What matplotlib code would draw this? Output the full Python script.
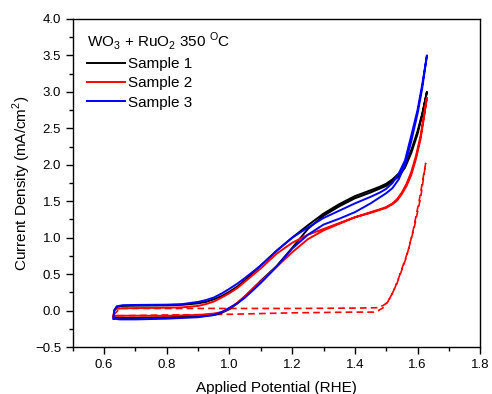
import numpy as np
import matplotlib
matplotlib.use("Agg")
import matplotlib.pyplot as plt
from matplotlib.ticker import MultipleLocator

plt.rcParams["font.family"] = ["Liberation Sans", "DejaVu Sans"]
plt.rcParams["mathtext.fontset"] = "custom"
plt.rcParams["mathtext.rm"] = "Liberation Sans"

# Sample 1 (black): outer branch up, inner branch back
s1_v_up = [0.63, 0.632, 0.64, 0.66, 0.7, 0.8, 0.85, 0.9, 0.925, 0.95, 0.975, 1.0, 1.025,
           1.05, 1.1, 1.15, 1.2, 1.25, 1.3, 1.35, 1.4, 1.45, 1.48, 1.5, 1.52, 1.54,
           1.56, 1.58, 1.6, 1.615, 1.63]
s1_j_up = [-0.08, 0.0, 0.05, 0.065, 0.068, 0.072, 0.08, 0.1, 0.12, 0.155, 0.2, 0.26, 0.33,
           0.42, 0.62, 0.82, 1.0, 1.17, 1.33, 1.46, 1.57, 1.65, 1.70, 1.74, 1.8, 1.88,
           2.0, 2.2, 2.46, 2.7, 3.0]
s1_v_dn = [1.63, 1.615, 1.6, 1.58, 1.56, 1.54, 1.52, 1.5, 1.45, 1.4, 1.35, 1.3, 1.25,
           1.2, 1.15, 1.1, 1.05, 1.025, 1.0, 0.975, 0.95, 0.9, 0.8, 0.7, 0.65, 0.63]
s1_j_dn = [3.0, 2.68, 2.42, 2.16, 1.96, 1.84, 1.77, 1.71, 1.62, 1.54, 1.43, 1.3, 1.12,
           0.86, 0.61, 0.41, 0.2, 0.1, 0.02, -0.03, -0.06, -0.08, -0.09, -0.10, -0.10, -0.09]

# Sample 2 (red)
s2_v_up = [0.63, 0.632, 0.64, 0.66, 0.7, 0.8, 0.85, 0.9, 0.925, 0.95, 0.975, 1.0, 1.025,
           1.05, 1.1, 1.15, 1.2, 1.25, 1.3, 1.35, 1.4, 1.45, 1.48, 1.5, 1.52, 1.535,
           1.55, 1.565, 1.58, 1.595, 1.61, 1.63]
s2_j_up = [-0.07, 0.0, 0.025, 0.033, 0.035, 0.04, 0.045, 0.065, 0.09, 0.125, 0.18, 0.24, 0.31,
           0.4, 0.58, 0.78, 0.93, 1.04, 1.12, 1.2, 1.28, 1.35, 1.39, 1.42, 1.47, 1.53,
           1.62, 1.74, 1.9, 2.12, 2.4, 2.92]
s2_v_dn = [1.63, 1.61, 1.595, 1.58, 1.565, 1.55, 1.535, 1.52, 1.5, 1.45, 1.4, 1.35, 1.3,
           1.25, 1.2, 1.15, 1.1, 1.05, 1.025, 1.0, 0.975, 0.95, 0.9, 0.8, 0.7, 0.65, 0.63]
s2_j_dn = [2.92, 2.36, 2.08, 1.86, 1.71, 1.6, 1.51, 1.46, 1.41, 1.34, 1.28, 1.19, 1.1,
           0.98, 0.8, 0.6, 0.4, 0.2, 0.11, 0.03, -0.02, -0.04, -0.06, -0.07, -0.07, -0.07, -0.07]

# Sample 3 (blue)
s3_v_up = [0.63, 0.632, 0.64, 0.66, 0.7, 0.8, 0.85, 0.9, 0.925, 0.95, 0.975, 1.0, 1.025,
           1.05, 1.1, 1.15, 1.2, 1.25, 1.3, 1.35, 1.4, 1.45, 1.48, 1.5, 1.52, 1.54,
           1.56, 1.58, 1.6, 1.615, 1.63]
s3_j_up = [-0.11, 0.0, 0.06, 0.075, 0.078, 0.082, 0.09, 0.12, 0.145, 0.18, 0.235, 0.3, 0.37,
           0.45, 0.62, 0.82, 1.0, 1.14, 1.27, 1.37, 1.47, 1.56, 1.62, 1.67, 1.75, 1.88,
           2.06, 2.4, 2.75, 3.1, 3.5]
s3_v_dn = [1.63, 1.615, 1.6, 1.58, 1.56, 1.54, 1.52, 1.5, 1.45, 1.4, 1.35, 1.3, 1.25,
           1.2, 1.15, 1.1, 1.05, 1.025, 1.0, 0.975, 0.95, 0.9, 0.8, 0.7, 0.65, 0.63]
s3_j_dn = [3.5, 3.05, 2.7, 2.32, 2.0, 1.8, 1.68, 1.61, 1.47, 1.35, 1.26, 1.18, 1.04,
           0.85, 0.6, 0.38, 0.18, 0.1, 0.04, -0.02, -0.06, -0.09, -0.11, -0.12, -0.12, -0.11]

# Sample 2 dark scan (red dashed)
dk_v_up = [0.63, 0.65, 0.8, 1.0, 1.2, 1.4, 1.47, 1.49, 1.5, 1.51, 1.525, 1.54, 1.57,
           1.59, 1.61, 1.626]
dk_j_up = [-0.06, 0.03, 0.03, 0.03, 0.03, 0.035, 0.04, 0.07, 0.1, 0.16, 0.28, 0.45, 0.82,
           1.15, 1.55, 2.02]
dk_v_dn = [1.626, 1.605, 1.585, 1.565, 1.535, 1.52, 1.505, 1.49, 1.475, 1.46, 1.4, 1.2,
           1.0, 0.8, 0.65, 0.63]
dk_j_dn = [2.02, 1.5, 1.08, 0.74, 0.38, 0.24, 0.12, 0.04, 0.0, -0.02, -0.02, -0.03,
           -0.05, -0.06, -0.07, -0.06]

fig = plt.figure(figsize=(4.92, 3.94), dpi=100)
ax = fig.add_axes([0.148, 0.119, 0.828, 0.833])

ax.plot(dk_v_up + dk_v_dn, dk_j_up + dk_j_dn, color="red", lw=1.2, dashes=[4, 2.5])
ax.plot(s1_v_up + s1_v_dn, s1_j_up + s1_j_dn, color="black", lw=1.4, label="Sample 1")
ax.plot(s2_v_up + s2_v_dn, s2_j_up + s2_j_dn, color="red", lw=1.4, label="Sample 2")
ax.plot(s3_v_up + s3_v_dn, s3_j_up + s3_j_dn, color="blue", lw=1.4, label="Sample 3")

ax.set_xlim(0.5, 1.8)
ax.set_ylim(-0.5, 4.0)
ax.xaxis.set_minor_locator(MultipleLocator(0.1))
ax.yaxis.set_major_locator(MultipleLocator(0.5))
ax.yaxis.set_minor_locator(MultipleLocator(0.25))
ax.set_xticks([0.6, 0.8, 1.0, 1.2, 1.4, 1.6, 1.8])
ax.tick_params(which="major", direction="out", length=5, width=1, labelsize=9.5)
ax.tick_params(which="minor", direction="out", length=3, width=1)
for sp in ax.spines.values():
    sp.set_linewidth(1.0)

ax.set_xlabel("Applied Potential (RHE)", fontsize=11, labelpad=7.5)
ax.set_ylabel("Current Density (mA/cm$^2$)", fontsize=11, labelpad=1)

leg = ax.legend(title="WO$_3$ + RuO$_2$ 350 $^{\\mathrm{O}}$C", loc="upper left",
                bbox_to_anchor=(0.008, 1.0), frameon=False, fontsize=11,
                title_fontsize=11, handlelength=2.5, handletextpad=0.2,
                labelspacing=0.35, borderaxespad=0.3)
leg._legend_box.align = "left"

fig.savefig("out.png", dpi=100)
